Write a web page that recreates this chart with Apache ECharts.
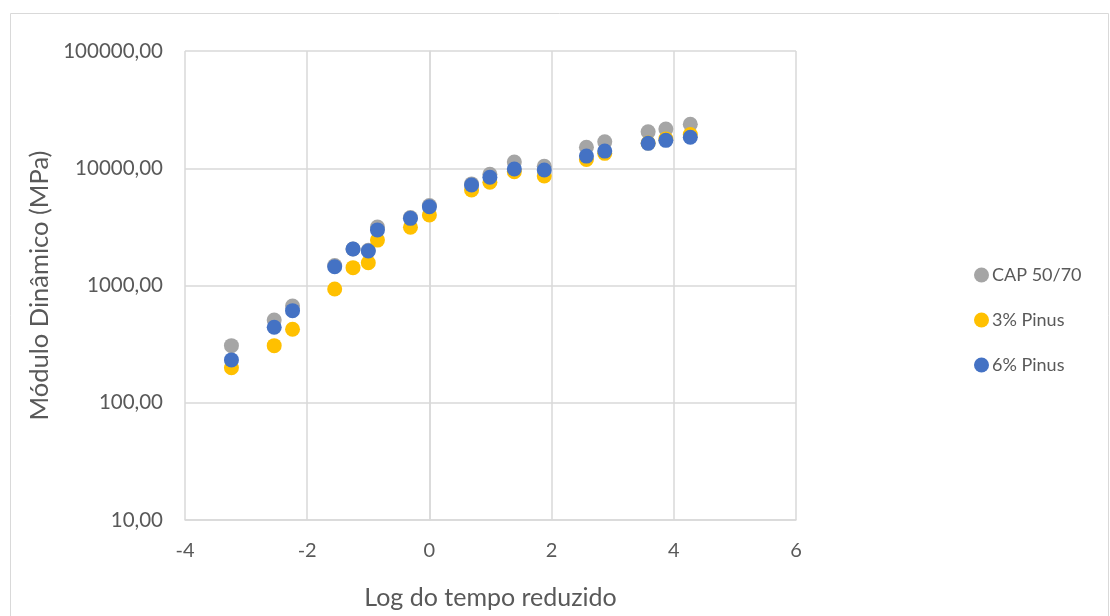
<!DOCTYPE html>
<html>
<head>
<meta charset="utf-8">
<script src="https://cdn.jsdelivr.net/npm/echarts@6/dist/echarts.min.js"></script>
<style>
html,body{margin:0;padding:0;background:#fff;}
#chart{width:1110px;height:616px;}
</style>
</head>
<body>
<div id="chart"></div>
<script>
const logTime = [-3.24, -2.54, -2.24, -1.55, -1.25, -1.0, -0.85, -0.31, 0, 0.69, 0.99, 1.39, 1.88, 2.57, 2.87, 3.58, 3.87, 4.27];
const cap5070 = [307, 508, 668, 1480, 2050, 2000, 3150, 3800, 4800, 7350, 8900, 11300, 10400, 15100, 16800, 20500, 21600, 23700];
const pinus3 = [199, 307, 423, 934, 1420, 1565, 2440, 3140, 3990, 6530, 7590, 9340, 8590, 11900, 13400, 16400, 17800, 19400];
const pinus6 = [232, 440, 610, 1446, 2048, 1970, 2980, 3740, 4700, 7200, 8370, 9860, 9660, 12700, 14000, 16300, 17300, 18400];
const seriesNames = ['CAP 50/70', '3% Pinus', '6% Pinus'];
const seriesColors = ['#A5A5A5', '#FFC000', '#4472C4'];
const xTicks = [-4, -2, 0, 2, 4, 6];
const yTicks = [10, 100, 1000, 10000, 100000];

const toPairs = vals => logTime.map((x, i) => [x, vals[i]]);
const allVals = [cap5070, pinus3, pinus6];

const chart = echarts.init(document.getElementById('chart'));
const font = 'Lato, "Open Sans", sans-serif';
const txt = '#595959';
const gridColor = '#D9D9D9';

chart.setOption({
  animation: false,
  textStyle: {fontFamily: font},
  graphic: [{
    type: 'rect',
    shape: {x: 10.5, y: 13.5, width: 1098, height: 620},
    style: {fill: 'none', stroke: gridColor, lineWidth: 1},
    silent: true
  }],
  grid: {left: 185, right: 314, top: 51, bottom: 96},
  legend: {
    orient: 'vertical',
    left: 969,
    top: 261,
    itemGap: 27,
    itemWidth: 15,
    itemHeight: 15,
    icon: 'circle',
    textStyle: {color: txt, fontSize: 18, fontFamily: font, padding: [0, 0, 0, -2]},
    data: seriesNames
  },
  xAxis: {
    type: 'value',
    min: xTicks[0],
    max: xTicks[xTicks.length - 1],
    interval: 2,
    name: 'Log do tempo reduzido',
    nameLocation: 'middle',
    nameGap: 65,
    nameTextStyle: {color: txt, fontSize: 25, fontFamily: font},
    axisLine: {show: true, onZero: false, lineStyle: {color: gridColor, width: 1.5}},
    axisTick: {show: false},
    axisLabel: {color: txt, fontSize: 20, margin: 21, fontFamily: font},
    splitLine: {show: true, lineStyle: {color: gridColor, width: 1.5}}
  },
  yAxis: {
    type: 'log',
    logBase: 10,
    min: yTicks[0],
    max: yTicks[yTicks.length - 1],
    name: 'Módulo Dinâmico (MPa)',
    nameLocation: 'middle',
    nameGap: 116,
    nameTextStyle: {color: txt, fontSize: 25.5, fontFamily: font},
    axisLine: {show: true, lineStyle: {color: gridColor, width: 1.5}},
    axisTick: {show: false},
    axisLabel: {
      color: txt, fontSize: 20.5, margin: 22, fontFamily: font,
      formatter: v => Number(v).toFixed(2).replace('.', ',')
    },
    splitLine: {show: true, lineStyle: {color: gridColor, width: 1.5}}
  },
  series: seriesNames.map((name, k) => ({
    name: name,
    type: 'scatter',
    symbol: 'circle',
    symbolSize: 15,
    itemStyle: {color: seriesColors[k], opacity: 1},
    data: toPairs(allVals[k]),
    z: 2 + k
  }))
});
</script>
</body>
</html>
